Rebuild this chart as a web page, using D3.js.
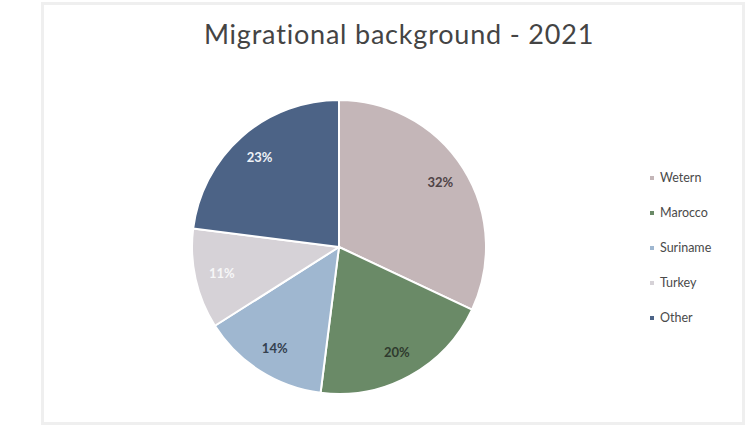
<!DOCTYPE html>
<html>
<head>
<meta charset="utf-8">
<script src="https://cdn.jsdelivr.net/npm/d3@7"></script>
<style>
  html, body { margin: 0; padding: 0; background: #ffffff; }
  svg { display: block; }
</style>
</head>
<body>
<svg id="chart" width="747" height="428"></svg>
<script>
// Migrational background shares, 2021
const categories = ["Wetern", "Marocco", "Suriname", "Turkey", "Other"];
const shares = [32, 20, 14, 11, 23];
const sliceColors = ["#c4b6b8", "#6a8a67", "#9fb7d0", "#d6d2d7", "#4c6386"];
const labelColors = ["#4f4346", "#2f3a2e", "#34404e", "#f7f7f7", "#eef2f7"];
const titleText = "Migrational background - 2021";

const svg = d3.select("#chart");

// Frame of the chart area
svg.append("rect")
  .attr("x", 42.5).attr("y", 3.5)
  .attr("width", 701).attr("height", 420)
  .attr("fill", "#ffffff")
  .attr("stroke", "#efefef")
  .attr("stroke-width", 3);

// Title
svg.append("text")
  .attr("x", 399).attr("y", 44)
  .attr("text-anchor", "middle")
  .attr("font-family", "Lato, 'Open Sans', sans-serif")
  .attr("font-size", 27)
  .attr("letter-spacing", 0.8)
  .attr("fill", "#444444")
  .text(titleText);

// Pie
const cx = 339, cy = 247, R = 147;
const data = categories.map((c, i) => ({ name: c, value: shares[i], i }));
const pie = d3.pie().sort(null).value(d => d.value);
const arcs = pie(data);
const arc = d3.arc().innerRadius(0).outerRadius(R);
const labelArc = d3.arc().innerRadius(120).outerRadius(120);

const g = svg.append("g").attr("transform", `translate(${cx},${cy})`);
g.selectAll("path.slice")
  .data(arcs)
  .join("path")
  .attr("class", "slice")
  .attr("d", arc)
  .attr("fill", d => sliceColors[d.data.i])
  .attr("stroke", "#ffffff")
  .attr("stroke-width", 2)
  .attr("stroke-linejoin", "round");

g.selectAll("text.lbl")
  .data(arcs)
  .join("text")
  .attr("class", "lbl")
  .attr("transform", d => `translate(${labelArc.centroid(d)})`)
  .attr("text-anchor", "middle")
  .attr("dy", "0.35em")
  .attr("font-family", "Lato, 'Open Sans', sans-serif")
  .attr("font-weight", "bold")
  .attr("font-size", 13)
  .attr("fill", d => labelColors[d.data.i])
  .text(d => d.data.value + "%");

// Legend
const legendY = d3.scalePoint().domain(categories).range([178, 318]);
const legend = svg.append("g");
const items = legend.selectAll("g")
  .data(data)
  .join("g")
  .attr("transform", d => `translate(652,${legendY(d.name)})`);
items.append("rect")
  .attr("x", -2).attr("y", -2)
  .attr("width", 4).attr("height", 4)
  .attr("fill", d => sliceColors[d.i]);
items.append("text")
  .attr("x", 8).attr("dy", "0.35em")
  .attr("font-family", "Lato, 'Open Sans', sans-serif")
  .attr("font-size", 12.5)
  .attr("fill", "#4a4a4a")
  .text(d => d.name);
</script>
</body>
</html>
